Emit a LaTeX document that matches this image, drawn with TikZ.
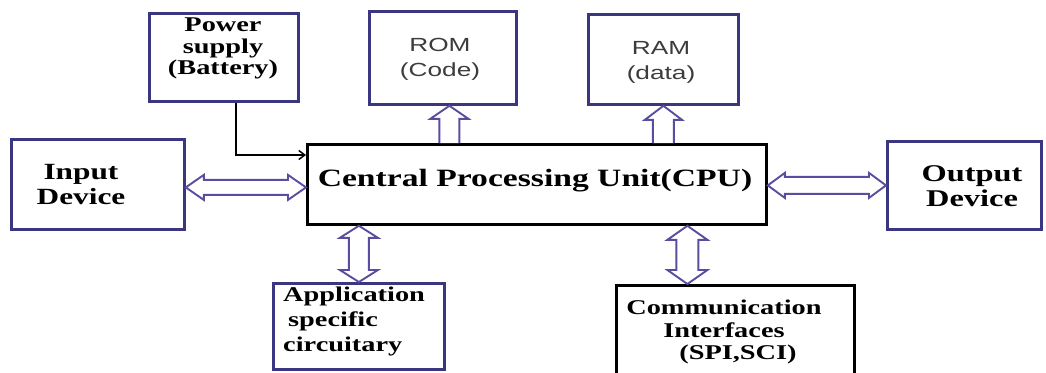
\documentclass[tikz,border=0pt]{standalone}
\usepackage{fontspec}
\setmainfont{Liberation Serif}[FakeStretch=1.35]
\newfontfamily\romfont{Liberation Sans}[FakeStretch=1.38]
\usetikzlibrary{calc,arrows.meta}
\definecolor{navy}{RGB}{58,54,128}
\definecolor{arrowc}{RGB}{88,78,160}
\definecolor{txtgray}{RGB}{60,60,60}
\tikzset{
  box/.style={draw=navy, line width=2.8pt, anchor=north west, inner sep=0pt},
  cpubox/.style={draw=black, line width=2.8pt, anchor=north west, inner sep=0pt},
  commbox/.style={draw=black, line width=2.8pt, anchor=north west, inner sep=0pt},
  lbl/.style={inner sep=0pt, align=center, anchor=north, text=black},
  slbl/.style={inner sep=0pt, align=center, anchor=north, text=txtgray, font=\romfont\fontsize{19}{24.5}\selectfont},
  harr/.style={draw=arrowc, line width=1.9pt, fill=white, line join=miter},
  hdbl/.style n args={3}{harr, to path={let \p1=(\tikztostart), \p2=(\tikztotarget) in
    (\x1,\y1) -- (\x1+#3,\y1+#2) -- (\x1+#3,\y1+#1) -- (\x2-#3,\y1+#1) -- (\x2-#3,\y1+#2) -- (\x2,\y1)
    -- (\x2-#3,\y1-#2) -- (\x2-#3,\y1-#1) -- (\x1+#3,\y1-#1) -- (\x1+#3,\y1-#2) -- cycle}},
  vdbl/.style n args={3}{harr, to path={let \p1=(\tikztostart), \p2=(\tikztotarget) in
    (\x1,\y1) -- (\x1+#2,\y1-#3) -- (\x1+#1,\y1-#3) -- (\x1+#1,\y2+#3) -- (\x1+#2,\y2+#3) -- (\x1,\y2)
    -- (\x1-#2,\y2+#3) -- (\x1-#1,\y2+#3) -- (\x1-#1,\y1-#3) -- (\x1-#2,\y1-#3) -- cycle}},
  vup/.style n args={3}{harr, to path={let \p1=(\tikztostart), \p2=(\tikztotarget) in
    (\x1-#1,\y1) -- (\x1-#1,\y2-#3) -- (\x1-#2,\y2-#3) -- (\x1,\y2) -- (\x1+#2,\y2-#3) -- (\x1+#1,\y2-#3) -- (\x1+#1,\y1)}},
  pline/.style={draw=black, line width=1.5pt, -{Straight Barb[length=6pt,width=9pt]}},
}
\begin{document}
\begin{tikzpicture}[x=1pt,y=-1pt]
\useasboundingbox[fill=white] (0,0) rectangle (1046,372);
% boxes
\node[box, minimum width=149pt, minimum height=88pt] (pw) at (148,12) {};
\node[box, minimum width=147pt, minimum height=93pt] (rom) at (368,10) {};
\node[box, minimum width=150pt, minimum height=90pt] (ram) at (587,13) {};
\node[cpubox, minimum width=459pt, minimum height=80pt] (cpu) at (306,143) {};
\node[box, minimum width=173pt, minimum height=90pt] (inp) at (10,138) {};
\node[box, minimum width=154pt, minimum height=88pt] (out) at (886,140) {};
\node[box, minimum width=171pt, minimum height=86pt] (app) at (272,282) {};
\node[commbox, minimum width=238pt, minimum height=94pt] (comm) at (615,284) {};
% texts
\node[lbl, font=\fontsize{21}{21.5}\selectfont\bfseries] (pwt) at (223,17.7) {Power\\supply\\(Battery)};
\node[slbl] (romt) at (440,38.5) {ROM\\(Code)};
\node[slbl] (ramt) at (661,41.5) {RAM\\(data)};
\node[inner sep=0pt, anchor=base, font=\fontsize{24.9}{28}\selectfont\bfseries] (cput) at (535,186) {Central Processing Unit(CPU)};
\node[lbl, font=\fontsize{23.2}{25}\selectfont\bfseries] (inpt) at (81,164.2) {Input\\Device};
\node[lbl, font=\fontsize{24}{25}\selectfont\bfseries] (outt) at (972,165.2) {Output\\Device};
\node[lbl, anchor=north west, align=left, font=\fontsize{21}{25}\selectfont\bfseries] (appt) at (283,287.2) {Application\\\hspace*{5pt}specific\\circuitary};
\node[lbl, font=\fontsize{21}{22.5}\selectfont\bfseries] (commt) at (724,300.2) {Communication\\Interfaces\\\hspace*{28pt}(SPI,SCI)};
% connectors
\coordinate (romA) at ([xshift=6.5pt]rom.south);
\coordinate (commA) at ([xshift=-48pt]comm.north);
\coordinate (inA) at ([yshift=-3pt]inp.east);
\coordinate (pwA) at ([xshift=12pt]pw.south);
\coordinate (cpuP) at ([yshift=-12pt]cpu.north west);
\draw[pline] (pwA) |- (cpuP);
\draw[vup={10pt}{19pt}{13pt}] (romA |- cpu.north) to (romA);
\draw[vup={10.5pt}{18.5pt}{14pt}] (ram.south |- cpu.north) to (ram.south);
\draw[hdbl={7.5pt}{12.5pt}{18pt}] (inA) to (inA -| cpu.west);
\draw[hdbl={8.5pt}{12.5pt}{17pt}] (out.west -| cpu.east) to (out.west);
\draw[vdbl={10pt}{19pt}{12pt}] (app.north |- cpu.south) to (app.north);
\draw[vdbl={11pt}{20pt}{14pt}] (commA |- cpu.south) to (commA);
\end{tikzpicture}
\end{document}
